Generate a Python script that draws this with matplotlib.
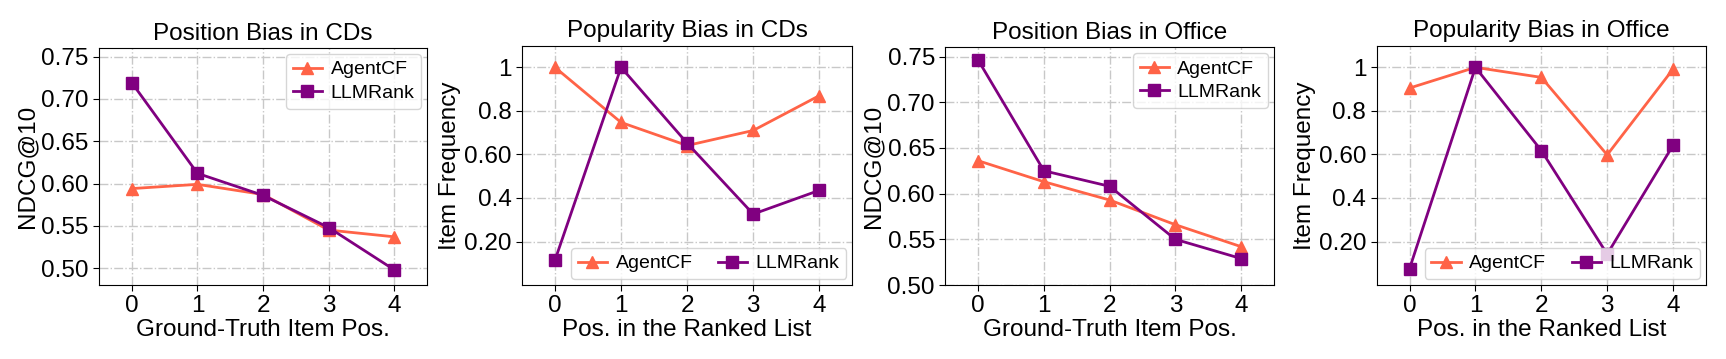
import matplotlib
matplotlib.use("Agg")
import matplotlib.pyplot as plt
from matplotlib.ticker import FixedLocator, FixedFormatter

plt.rcParams["font.family"] = ["Liberation Sans", "DejaVu Sans"]

positions = [0, 1, 2, 3, 4]

# Position bias, CDs
pos_cds_agentcf = [0.594, 0.599, 0.587, 0.545, 0.537]
pos_cds_llmrank = [0.719, 0.612, 0.586, 0.548, 0.498]
# Popularity bias, CDs
pop_cds_agentcf = [1.0, 0.747, 0.641, 0.710, 0.870]
pop_cds_llmrank = [0.114, 1.0, 0.652, 0.326, 0.435]
# Position bias, Office
pos_off_agentcf = [0.636, 0.613, 0.593, 0.566, 0.542]
pos_off_llmrank = [0.746, 0.625, 0.608, 0.550, 0.529]
# Popularity bias, Office
pop_off_agentcf = [0.905, 1.0, 0.954, 0.598, 0.992]
pop_off_llmrank = [0.076, 1.0, 0.618, 0.142, 0.642]

titles = ["Position Bias in CDs", "Popularity Bias in CDs",
          "Position Bias in Office", "Popularity Bias in Office"]
xlabels = ["Ground-Truth Item Pos.", "Pos. in the Ranked List",
           "Ground-Truth Item Pos.", "Pos. in the Ranked List"]
ylabels = ["NDCG@10", "Item Frequency", "NDCG@10", "Item Frequency"]
pop_ticks = [0.2, 0.4, 0.6, 0.8, 1.0]
pop_ticklabels = ["0.20", "0.4", "0.60", "0.8", "1"]
pos_ticks = [0.50, 0.55, 0.60, 0.65, 0.70, 0.75]

series = [
    (pos_cds_agentcf, pos_cds_llmrank),
    (pop_cds_agentcf, pop_cds_llmrank),
    (pos_off_agentcf, pos_off_llmrank),
    (pop_off_agentcf, pop_off_llmrank),
]

c_agent = "#ff6347"
c_llm = "#800080"

fig = plt.figure(figsize=(17.26, 3.59), dpi=100)
rects = [
    [0.0574, 0.206, 0.1900, 0.660],
    [0.3024, 0.206, 0.1914, 0.667],
    [0.5477, 0.206, 0.1904, 0.662],
    [0.7976, 0.206, 0.1908, 0.667],
]
ylims = [(0.48, 0.76), (0.0, 1.1), (0.50, 0.76), (0.0, 1.1)]

for i, (agent, llm) in enumerate(series):
    ax = fig.add_axes(rects[i])
    ax.plot(positions, agent, color=c_agent, marker="^", markersize=8, lw=2, label="AgentCF")
    ax.plot(positions, llm, color=c_llm, marker="s", markersize=8, lw=2, label="LLMRank")
    ax.set_xlim(-0.5, 4.5)
    ax.set_ylim(*ylims[i])
    ax.set_xticks(positions)
    if i % 2 == 0:
        ax.set_yticks(pos_ticks)
        ax.set_yticklabels([f"{t:.2f}" for t in pos_ticks])
        ax.legend(loc="upper right", fontsize=14, handlelength=1.5, borderpad=0.35,
                  labelspacing=0.3, handletextpad=0.45, borderaxespad=0.3)
    else:
        ax.yaxis.set_major_locator(FixedLocator(pop_ticks))
        ax.yaxis.set_major_formatter(FixedFormatter(pop_ticklabels))
        ax.legend(loc="lower right", ncol=2, fontsize=14, handlelength=1.5,
                  borderpad=0.35, handletextpad=0.45, columnspacing=1.3,
                  borderaxespad=0.3)
    ax.grid(True, ls="-.", color="#c8c8c8", lw=1)
    ax.set_axisbelow(True)
    ax.tick_params(labelsize=17.5, length=4)
    ax.set_title(titles[i], fontsize=17.5, pad=6)
    ax.set_xlabel(xlabels[i], fontsize=17.5, labelpad=1)
    ax.set_ylabel(ylabels[i], fontsize=17.5, labelpad=2)

fig.savefig("out.png", dpi=100)
